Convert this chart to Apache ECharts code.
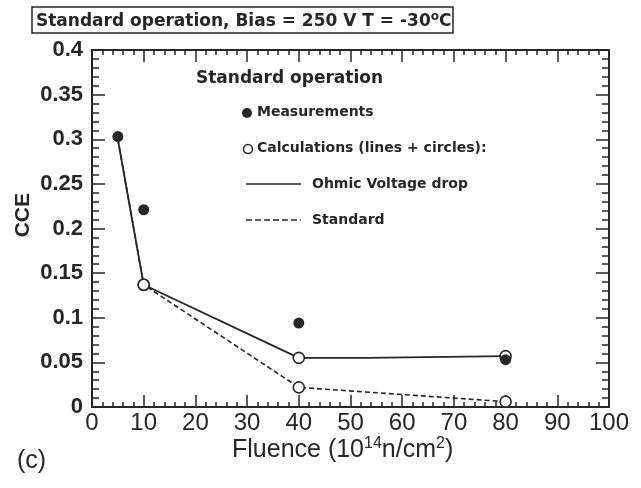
<!DOCTYPE html>
<html>
<head>
<meta charset="utf-8">
<script src="https://cdn.jsdelivr.net/npm/echarts@6/dist/echarts.min.js"></script>
<style>
  html, body { margin: 0; padding: 0; background: #fff; }
  #chart { width: 641px; height: 488px; }
</style>
</head>
<body>
<div id="chart"></div>
<script>
// Fluence in units of 1e14 n/cm^2, CCE as a fraction
var measFluence = [5, 10, 40, 80];
var measCCE     = [0.303, 0.221, 0.094, 0.053];

// calculated points (open circles)
var calcFluence    = [10, 40, 80];
var calcOhmicCCE   = [0.137, 0.055, 0.057];
var calcStdCCE     = [0.137, 0.022, 0.006];

// line traces of the two calculations
var ohmicFluence = [5, 10, 40, 53, 53, 80];
var ohmicCCE     = [0.300, 0.137, 0.055, 0.055, 0.057, 0.057];
var stdFluence   = [5, 10, 40, 80];
var stdCCE       = [0.300, 0.137, 0.022, 0.006];

var xTicks = [0, 10, 20, 30, 40, 50, 60, 70, 80, 90, 100];
var yTicks = [0, 0.05, 0.1, 0.15, 0.2, 0.25, 0.3, 0.35, 0.4];

function pairs(xs, ys) { return xs.map(function (x, i) { return [x, ys[i]]; }); }

var ink = '#262626';
var axisLine = { show: true, onZero: false, lineStyle: { color: ink, width: 2 } };

function xAxisDef(pos, labels) {
  return {
    type: 'value', position: pos, min: xTicks[0], max: xTicks[xTicks.length - 1],
    interval: xTicks[1] - xTicks[0],
    axisLine: axisLine,
    axisTick: { show: true, inside: true, length: 12, lineStyle: { color: ink, width: 1.5 } },
    minorTick: { show: true, splitNumber: 5, length: 5, lineStyle: { color: ink, width: 1.5 } },
    splitLine: { show: false },
    axisLabel: labels ? {
      show: true, margin: 4, color: ink, fontSize: 24,
      fontFamily: '"Liberation Sans", Arial, sans-serif'
    } : { show: false }
  };
}
function yAxisDef(pos, labels) {
  return {
    type: 'value', position: pos, min: yTicks[0], max: yTicks[yTicks.length - 1],
    interval: yTicks[1] - yTicks[0],
    axisLine: axisLine,
    axisTick: { show: true, inside: true, length: 13, lineStyle: { color: ink, width: 1.5 } },
    minorTick: { show: true, splitNumber: 5, length: 7, lineStyle: { color: ink, width: 1.5 } },
    splitLine: { show: false },
    axisLabel: labels ? {
      show: true, margin: 9, color: ink, fontSize: 22, fontWeight: 'bold',
      fontFamily: '"Liberation Sans", Arial, sans-serif',
      formatter: function (v) { return String(+v.toFixed(2)); }
    } : { show: false }
  };
}

var legendFont = 'bold 14px "DejaVu Sans", sans-serif';

var option = {
  backgroundColor: '#fff',
  animation: false,
  title: {
    text: 'Standard operation, Bias = 250 V T = -30{sup|o}C',
    left: 32, top: 7,
    padding: [4, 2, 3, 4],
    borderColor: ink, borderWidth: 1.5,
    textStyle: {
      color: ink, fontSize: 17, fontWeight: 'bold',
      fontFamily: '"DejaVu Sans", sans-serif',
      rich: {
        sup: { fontSize: 12, fontWeight: 'bold', color: ink, verticalAlign: 'top',
               fontFamily: '"DejaVu Sans", sans-serif', padding: [0, 0, 9, 0] }
      }
    }
  },
  grid: { left: 92, right: 32, top: 50, bottom: 81 },
  xAxis: [xAxisDef('bottom', true), xAxisDef('top', false)],
  yAxis: [yAxisDef('left', true), yAxisDef('right', false)],
  graphic: [
    { type: 'text', left: 13, top: 193, rotation: Math.PI / 2,
      style: { text: 'CCE', fill: ink, font: 'bold 21px "Liberation Sans", Arial, sans-serif' } },
    { type: 'text', left: 232, top: 436,
      style: { text: 'Fluence (10{sup|14}n/cm{sup|2})', fill: ink,
               font: '25px "Liberation Sans", Arial, sans-serif',
               rich: { sup: { fontSize: 16, fill: ink, verticalAlign: 'top', padding: [0, 0, 12, 0],
                              fontFamily: '"Liberation Sans", Arial, sans-serif' } } } },
    { type: 'text', left: 17, top: 449,
      style: { text: '(c)', fill: ink, font: '25px "Liberation Sans", Arial, sans-serif' } },

    { type: 'text', left: 196, top: 70,
      style: { text: 'Standard operation', fill: ink, font: 'bold 17px "DejaVu Sans", sans-serif' } },
    { type: 'circle', shape: { cx: 247, cy: 113, r: 5 }, style: { fill: ink } },
    { type: 'text', left: 257, top: 105,
      style: { text: 'Measurements', fill: ink, font: legendFont } },
    { type: 'circle', shape: { cx: 248, cy: 149, r: 4.5 }, style: { fill: '#fff', stroke: ink, lineWidth: 1.5 } },
    { type: 'text', left: 257, top: 141,
      style: { text: 'Calculations (lines + circles):', fill: ink, font: legendFont } },
    { type: 'line', shape: { x1: 246, y1: 184, x2: 301, y2: 184 }, style: { stroke: ink, lineWidth: 1.5 } },
    { type: 'text', left: 312, top: 177,
      style: { text: 'Ohmic Voltage drop', fill: ink, font: legendFont } },
    { type: 'line', shape: { x1: 246, y1: 220, x2: 301, y2: 220 }, style: { stroke: ink, lineWidth: 1.5, lineDash: [6, 3] } },
    { type: 'text', left: 312, top: 213,
      style: { text: 'Standard', fill: ink, font: legendFont } }
  ],
  series: [
    {
      name: 'Ohmic Voltage drop', type: 'line', data: pairs(ohmicFluence, ohmicCCE),
      showSymbol: false, symbol: 'none', z: 2,
      lineStyle: { color: ink, width: 1.8 }
    },
    {
      name: 'Standard', type: 'line', data: pairs(stdFluence, stdCCE),
      showSymbol: false, symbol: 'none', z: 2,
      lineStyle: { color: ink, width: 1.6, type: [5, 3] }
    },
    {
      name: 'Calc ohmic', type: 'scatter', data: pairs(calcFluence, calcOhmicCCE),
      symbol: 'circle', symbolSize: 11, z: 3,
      itemStyle: { color: '#fff', borderColor: ink, borderWidth: 1.6, opacity: 1 }
    },
    {
      name: 'Calc standard', type: 'scatter', data: pairs(calcFluence, calcStdCCE),
      symbol: 'circle', symbolSize: 11, z: 3,
      itemStyle: { color: '#fff', borderColor: ink, borderWidth: 1.6, opacity: 1 }
    },
    {
      name: 'Measurements', type: 'scatter', data: pairs(measFluence, measCCE),
      symbol: 'circle', symbolSize: 11, z: 4,
      itemStyle: { color: ink, opacity: 1 }
    }
  ]
};

var chart = echarts.init(document.getElementById('chart'), null, { renderer: 'canvas' });
chart.setOption(option);
</script>
</body>
</html>
